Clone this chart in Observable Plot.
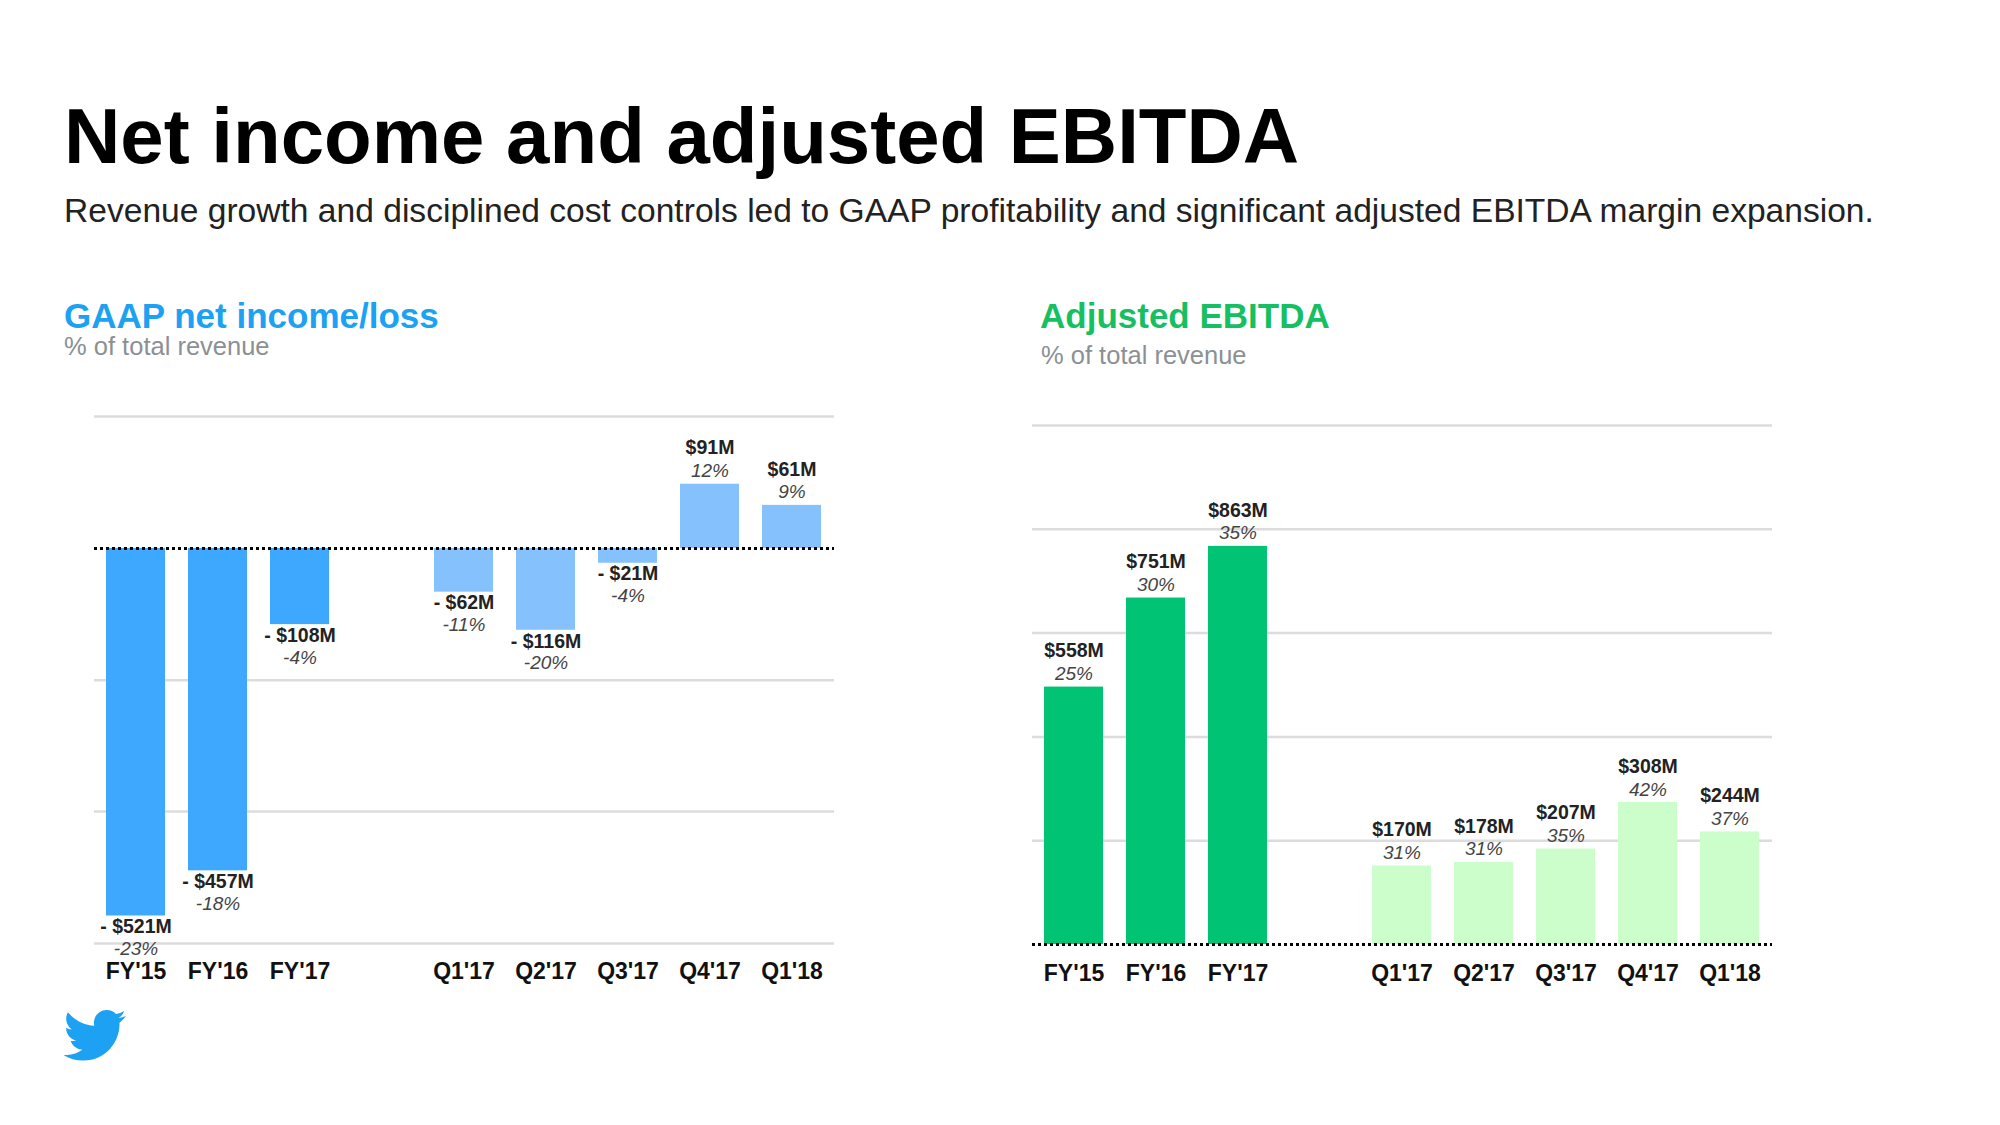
<!DOCTYPE html>
<html><head><meta charset="utf-8">
<script src="https://cdn.jsdelivr.net/npm/d3@7"></script>
<script src="https://cdn.jsdelivr.net/npm/@observablehq/plot@0.6"></script>
<style>
html,body{margin:0;padding:0;background:#fff;}
body{width:2000px;height:1125px;position:relative;overflow:hidden;font-family:"Liberation Sans",Arial,Helvetica,sans-serif;}
.t{position:absolute;white-space:nowrap;line-height:1;}
.chart{position:absolute;}
</style></head><body>
<div class="t" style="left:64px;top:97px;font-size:78px;font-weight:bold;color:#000;">Net income and adjusted EBITDA</div>
<div class="t" style="left:64px;top:194px;font-size:33.6px;color:#222;">Revenue growth and disciplined cost controls led to GAAP profitability and significant adjusted EBITDA margin expansion.</div>
<div class="t" style="left:64px;top:298px;font-size:35px;font-weight:bold;color:#1DA1F2;">GAAP net income/loss</div>
<div class="t" style="left:64px;top:334px;font-size:25.5px;color:#8b9095;">% of total revenue</div>
<div class="t" style="left:1040px;top:298px;font-size:35px;font-weight:bold;color:#17BF63;">Adjusted EBITDA</div>
<div class="t" style="left:1041px;top:343px;font-size:25.5px;color:#8b9095;">% of total revenue</div>
<div id="left" class="chart" style="left:60px;top:380px;"></div>
<div id="right" class="chart" style="left:1000px;top:380px;"></div>
<svg style="position:absolute;left:62px;top:1010px;" width="64" height="52" viewBox="0.35 2.75 23.35 18.95">
<path fill="#1DA1F2" d="M23.643 4.937c-.835.37-1.732.62-2.675.733.962-.576 1.7-1.49 2.048-2.578-.9.534-1.897.922-2.958 1.13-.85-.904-2.06-1.470-3.400-1.470-2.572 0-4.658 2.086-4.658 4.660 0 .364.042.718.120 1.060-3.873-.195-7.304-2.050-9.602-4.868-.400.690-.630 1.490-.630 2.342 0 1.616.823 3.043 2.072 3.878-.764-.025-1.482-.234-2.110-.583v.060c0 2.257 1.605 4.140 3.737 4.568-.392.106-.803.162-1.227.162-.300 0-.593-.028-.877-.082.593 1.850 2.313 3.198 4.352 3.234-1.595 1.250-3.604 1.995-5.786 1.995-.376 0-.747-.022-1.112-.065 2.062 1.323 4.510 2.093 7.140 2.093 8.570 0 13.255-7.098 13.255-13.254 0-.200-.005-.402-.014-.602.910-.658 1.700-1.477 2.323-2.410z"/>
</svg>
<script>
// ---- data ----
const periods = ["FY'15", "FY'16", "FY'17", "Q1'17", "Q2'17", "Q3'17", "Q4'17", "Q1'18"];
const xDomain = ["FY'15", "FY'16", "FY'17", " ", "Q1'17", "Q2'17", "Q3'17", "Q4'17", "Q1'18"];
const gaapValues = [-521, -457, -108, -62, -116, -21, 91, 61];
const gaapPct = [-23, -18, -4, -11, -20, -4, 12, 9];
const ebitdaValues = [558, 751, 863, 170, 178, 207, 308, 244];
const ebitdaPct = [25, 30, 35, 31, 31, 35, 42, 37];
const gaapGrid = [-560, -373, -187, 187];
const ebitdaGrid = [225, 450, 675, 900, 1125];

const FONT = '"Liberation Sans", Arial, Helvetica, sans-serif';

function dollar(v) { return v < 0 ? `- $${-v}M` : `$${v}M`; }
function pctLabel(p) { return `${p}%`; }

function chart(o) {
  const data = periods.map((p, i) => ({period: p, value: o.values[i], pct: o.pct[i], annual: p.startsWith("FY")}));
  const pos = data.filter(d => d.value >= 0);
  const neg = data.filter(d => d.value < 0);
  const lab = {fontSize: 19.5, fontWeight: "bold", fill: "#222"};
  const plab = {fontSize: 19, fontStyle: "italic", fill: "#444"};
  return Plot.plot({
    width: 800, height: 620,
    marginTop: o.marginTop, marginBottom: o.marginBottom, marginLeft: o.marginLeft, marginRight: o.marginRight,
    x: {domain: xDomain, paddingInner: 0.28, paddingOuter: 0.14, label: null},
    y: {domain: o.domain, axis: null},
    style: {fontFamily: FONT, background: "transparent", overflow: "visible"},
    marks: [
      Plot.ruleY(o.grid, {stroke: "#dcdcdc", strokeWidth: 2.5}),
      Plot.barY(data.filter(d => d.annual), {x: "period", y: "value", fill: o.fyColor}),
      Plot.barY(data.filter(d => !d.annual), {x: "period", y: "value", fill: o.qColor}),
      Plot.ruleY([0], {stroke: "#000", strokeWidth: 3, strokeDasharray: "3,3"}),
      Plot.text(pos, {x: "period", y: "value", text: d => dollar(d.value), dy: -36, ...lab}),
      Plot.text(pos, {x: "period", y: "value", text: d => pctLabel(d.pct), dy: -13, ...plab}),
      Plot.text(neg, {x: "period", y: "value", text: d => dollar(d.value), dy: 11, ...lab}),
      Plot.text(neg, {x: "period", y: "value", text: d => pctLabel(d.pct), dy: 33, ...plab}),
      Plot.axisX({tickSize: 0, tickPadding: o.tickPadding, fontSize: 23, fontWeight: "bold", fill: "#111", tickFormat: d => d.trim(), label: null})
    ]
  });
}

document.getElementById("left").append(chart({
  values: gaapValues, pct: gaapPct, domain: [-560, 187], grid: gaapGrid,
  fyColor: "#3ea8ff", qColor: "#84c1fd",
  marginTop: 36, marginBottom: 57, marginLeft: 34, marginRight: 26, tickPadding: 19
}));
document.getElementById("right").append(chart({
  values: ebitdaValues, pct: ebitdaPct, domain: [0, 1125], grid: ebitdaGrid,
  fyColor: "#00c473", qColor: "#ccfecc",
  marginTop: 45, marginBottom: 56, marginLeft: 32, marginRight: 28, tickPadding: 20
}));
</script>
</body></html>
